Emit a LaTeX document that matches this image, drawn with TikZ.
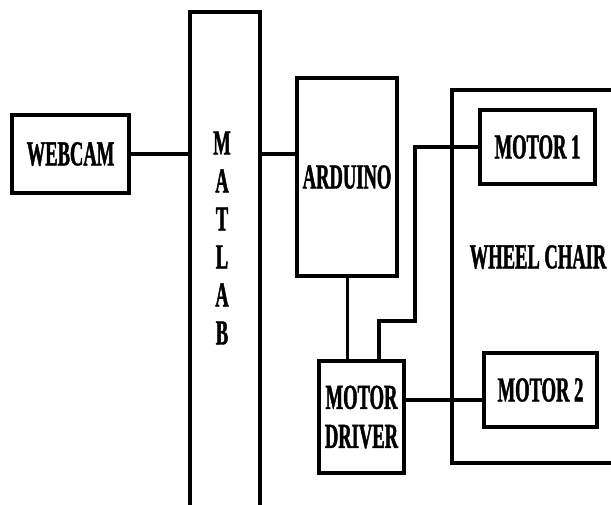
\documentclass[tikz,border=0pt]{standalone}
\usepackage{fontspec}
\newfontfamily\lblfont[FakeStretch=0.53,FakeBold=1.2,UprightFont=* Bold]{Liberation Serif}
\usepackage{tikz}
\usetikzlibrary{positioning}

\begin{document}
\begin{tikzpicture}[x=1pt,y=-1pt,line width=3.5pt,
  blk/.style={draw,rectangle,inner sep=0pt,font=\fontsize{35}{39}\lblfont,align=center},
  lbl/.style={font=\fontsize{35}{38}\lblfont,align=center}]
\useasboundingbox (0,0) rectangle (611,504);
\node[blk,minimum width=117pt,minimum height=78pt](webcam)at(70.5,154){WEBCAM};
\node[blk,minimum width=70pt,minimum height=498pt](matlab)at(225,261){};
\node[lbl](matlabtxt)at(222,238){M\\A\\T\\L\\A\\B};
\node[blk,minimum width=100pt,minimum height=198pt](arduino)at(347,177){ARDUINO};
\node[blk,minimum width=85pt,minimum height=112pt](driver)at(361.5,417){MOTOR\\DRIVER};
\node[blk,minimum width=188pt,minimum height=373pt](chair)at(546,276.5){};
\node[lbl](chairtxt)at(538,257){WHEEL CHAIR};
\node[blk,minimum width=115pt,minimum height=74pt,fill=white](motor1)at(537.5,147){MOTOR 1};
\node[blk,minimum width=113pt,minimum height=74pt,fill=white](motor2)at(540.5,390){MOTOR 2};
\coordinate (bend) at (415,321);
\draw(webcam)--(webcam-|matlab.west);
\draw(matlab.east|-webcam)--(arduino.west|-webcam);
\draw[line width=3pt](arduino.south)--(arduino.south|-driver.north);
\draw([xshift=17.5pt]driver.north)|-(bend)|-(motor1.west);
\draw([yshift=17pt]driver.east)--([yshift=17pt]driver.east-|motor2.west);
\end{tikzpicture}
\end{document}
